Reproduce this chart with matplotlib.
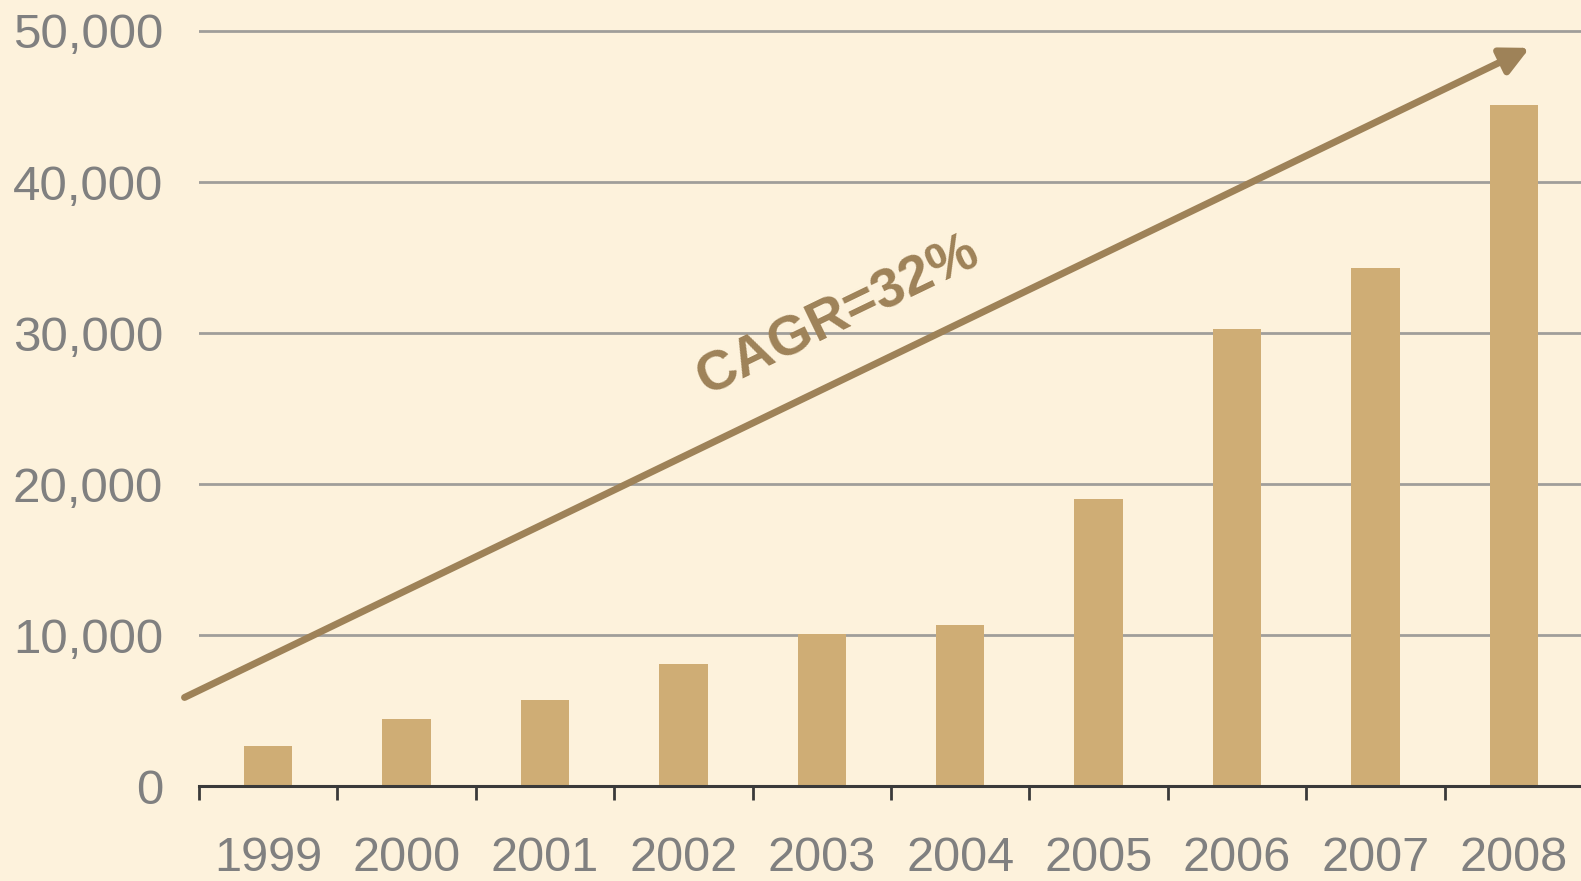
import matplotlib
matplotlib.use("Agg")
import matplotlib.pyplot as plt

# values
years = ["1999", "2000", "2001", "2002", "2003", "2004", "2005", "2006", "2007", "2008"]
values = [2700, 4470, 5680, 8080, 10100, 10700, 19040, 30260, 34320, 45070]
y_ticks = [0, 10000, 20000, 30000, 40000, 50000]
y_labels = ["0", "10,000", "20,000", "30,000", "40,000", "50,000"]
trend_start = (-0.605, 5880)
trend_end = (9.114, 48880)
trend_label = "CAGR=32%"

bg = "#FDF2DC"
bar_color = "#CFAD75"
arrow_color = "#9E8258"
text_gray = "#808080"

plt.rcParams["font.family"] = ["Liberation Sans", "DejaVu Sans"]

fig = plt.figure(figsize=(15.81, 8.81), dpi=100, facecolor=bg)
ax = fig.add_axes([0.1259, 0.1075, 0.8754, 0.8925])
ax.set_facecolor(bg)

x = list(range(len(years)))
ax.bar(x, values, width=0.35, color=bar_color, zorder=2)

ax.set_xlim(-0.5, 9.5)
ax.set_ylim(0, 52050)

# gridlines
ax.set_yticks(y_ticks)
ax.set_yticklabels(y_labels, fontsize=35.5, color=text_gray)
ax.yaxis.grid(True, color="#A09E9A", linewidth=2, zorder=1)
ax.set_axisbelow(True)
ax.tick_params(axis="y", length=0, pad=26)

# year labels at centres, tick marks at category boundaries
ax.set_xticks(x)
ax.set_xticklabels(years, fontsize=35, color=text_gray)
ax.set_xticks([i - 0.5 for i in range(len(years) + 1)], minor=True)
ax.tick_params(axis="x", which="major", length=0, pad=36)
ax.tick_params(axis="x", which="minor", length=10, width=2, color="#3a3a3a", direction="out")

for side in ["left", "top", "right"]:
    ax.spines[side].set_visible(False)
ax.spines["bottom"].set_color("#3a3a3a")
ax.spines["bottom"].set_linewidth(2.2)
ax.spines["bottom"].set_zorder(3)

# trend arrow
ax.annotate("", xy=trend_end, xytext=trend_start, annotation_clip=False,
            arrowprops=dict(arrowstyle="-|>", color=arrow_color, lw=5,
                            mutation_scale=42, shrinkA=0, shrinkB=0),
            zorder=4)
ax.text(4.12, 31100, trend_label, rotation=25.8, rotation_mode="anchor",
        ha="center", va="center", fontsize=40, fontweight="bold",
        color=arrow_color, zorder=5)

fig.savefig("out.png", dpi=100, facecolor=bg)
